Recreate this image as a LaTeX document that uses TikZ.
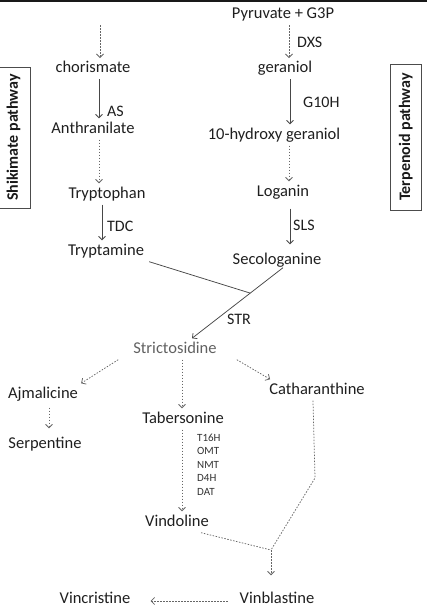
\documentclass[tikz,border=0pt]{standalone}
\usepackage{fontspec}
\setmainfont{Carlito}
\usetikzlibrary{arrows.meta}
\usetikzlibrary{calc}

\tikzset{
  cmpd/.style={inner xsep=0pt, inner ysep=3pt, text height=11.5pt, text depth=3.5pt,
    anchor=base, font=\fontsize{16.5}{18}\selectfont, text=black!88},
  enz/.style={inner sep=0pt, anchor=base west, font=\fontsize{16}{18}\selectfont, text=black!88},
  minor/.style={inner sep=0pt, anchor=base west, font=\fontsize{11}{12}\selectfont, text=black!80},
  pathbox/.style={draw=black!70, line width=0.8pt, rotate=90, inner sep=0pt,
    font=\fontsize{16}{18}\selectfont\bfseries, text=black!90},
  link/.style={draw=black!72, line width=0.75pt},
  dotline/.style={link, draw=black!60, dash pattern=on 1.5pt off 1.5pt},
  conv/.style={link, -{Straight Barb[length=3.5pt,width=7pt]}},
  multi/.style={conv, draw=black!60, dash pattern=on 1.5pt off 1.5pt}
}

\begin{document}
\begin{tikzpicture}[x=1pt,y=-1pt]
        \useasboundingbox (0,0) rectangle (427,611);
        \draw[line width=1.5pt, black!90] (0,0.75) -- (427,0.75);

        \node[pathbox, minimum width=141pt, minimum height=33pt] (shik) at (13.5,137.5) {Shikimate pathway};
        \node[pathbox, minimum width=146pt, minimum height=31.5pt] (terp) at (405.75,137) {Terpenoid pathway};

        % terpenoid branch
        \node[cmpd] (pyr) at (283,18.3) {Pyruvate + G3P};
        \node[cmpd] (ger) at (285,72.7) {geraniol};
        \node[cmpd] (hyd) at (274,139) {10-hydroxy geraniol};
        \node[cmpd] (log) at (283,196) {Loganin};
        \node[cmpd] (sec) at (277,264) {Secologanine};
        % shikimate branch
        \node[cmpd] (cho) at (93,72.7) {chorismate};
        \node[cmpd] (ant) at (93,133) {Anthranilate};
        \node[cmpd] (trp) at (107,198) {Tryptophan};
        \node[cmpd] (trm) at (106,255) {Tryptamine};
        % alkaloids
        \node[cmpd, text=black!62] (str) at (175,353) {Strictosidine};
        \node[cmpd] (ajm) at (43,398) {Ajmalicine};
        \node[cmpd] (tab) at (183,423) {Tabersonine};
        \node[cmpd] (cat) at (317,394) {Catharanthine};
        \node[cmpd] (ser) at (45,448) {Serpentine};
        \node[cmpd] (vdl) at (177,526) {Vindoline};
        \node[cmpd] (vbl) at (277,603) {Vinblastine};
        \node[cmpd] (vcr) at (95,603) {Vincristine};

        % enzymes
        \node[enz] (dxs) at (297,47) {DXS};
        \node[enz] (g10h) at (303,107) {G10H};
        \node[enz] (as) at (107,116) {AS};
        \node[enz] (tdc) at (107,231) {TDC};
        \node[enz] (sls) at (293,230) {SLS};
        \node[enz] (strl) at (227,324) {STR};
        \foreach \e [count=\i] in {T16H,OMT,NMT,D4H,DAT}
          \node[minor] (e\i) at (197,427.5+13.5*\i) {\e};

        \coordinate (top0) at (100,25);
        \coordinate (bend) at (315,478);
        \coordinate (merge) at (271,550);

        \draw[multi] (top0) -- ([xshift=7pt]cho.north);
        \draw[conv] ([xshift=6pt]cho.south) -- ([xshift=6pt]ant.north);
        \draw[multi] ([xshift=6pt]ant.south) -- ([xshift=-8pt]trp.north);
        \draw[conv] ([xshift=-5pt]trp.south) -- ([xshift=-4pt]trm.north);

        \draw[multi] ([xshift=6pt]pyr.south) -- ([xshift=4pt]ger.north);
        \draw[conv] ([xshift=5pt]ger.south) -- ([xshift=16pt]hyd.north);
        \draw[multi] ([xshift=15pt]hyd.south) -- ([xshift=6pt]log.north);
        \draw[conv, shorten <=6pt, shorten >=5pt] ([xshift=7pt]log.south) -- ([xshift=13pt]sec.north);

        \draw[conv] ([xshift=6pt,yshift=3pt]sec.south) -- coordinate[pos=0.36] (join) ([xshift=17pt]str.north);
        \draw[link] ([xshift=5pt]trm.south east) -- (join);

        \draw[multi] ([xshift=-15pt]str.south west) -- ([xshift=3pt]ajm.north east);
        \draw[multi] ([xshift=7pt]str.south) -- ([xshift=-1pt]tab.north);
        \draw[multi] ([xshift=20pt]str.south east) -- ([xshift=1pt]cat.north west);
        \draw[multi, shorten <=3pt, shorten >=5pt] ([xshift=6pt]ajm.south) -- ([xshift=4pt]ser.north);
        \draw[multi] ([xshift=-1pt]tab.south) -- ([xshift=5pt]vdl.north);

        \draw[dotline] ([xshift=-4pt]cat.south) -- (bend) -- (merge);
        \draw[dotline] ([xshift=-8pt]vdl.south east) -- (merge);
        \draw[multi, shorten >=13pt] (merge) -- ([xshift=-6pt]vbl.north);
        \draw[multi] ([xshift=-12pt,yshift=2pt]vbl.base west) -- ([xshift=20pt,yshift=2pt]vcr.base east);
\end{tikzpicture}
\end{document}
